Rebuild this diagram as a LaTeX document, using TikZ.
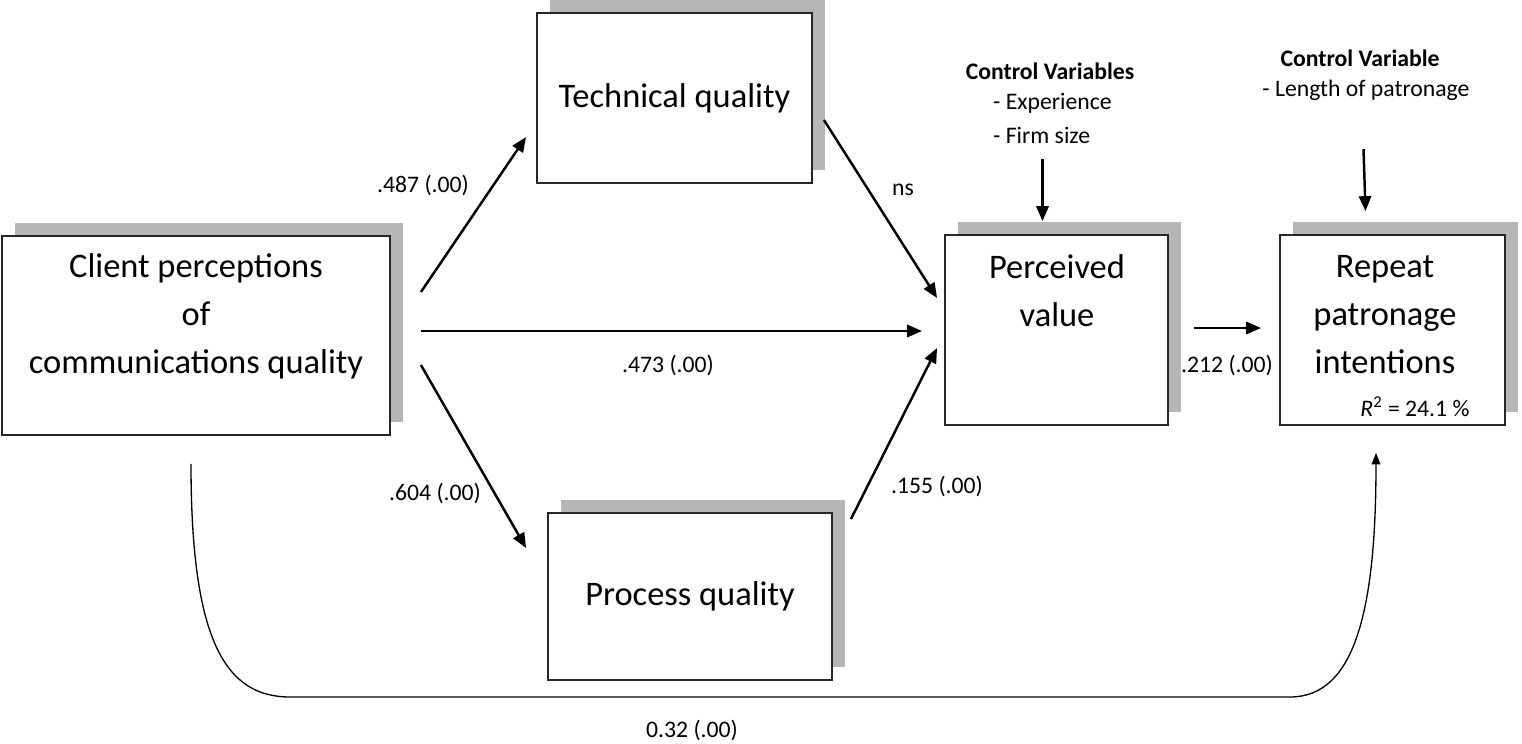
\documentclass[tikz,border=0pt]{standalone}
\usepackage{fontspec}
\setmainfont{Carlito}
\usetikzlibrary{arrows.meta,shadows,calc}

\definecolor{shadegray}{RGB}{182,182,182}

\tikzset{
  box/.style={draw=black!85, line width=1.1pt, fill=white, inner sep=0pt,
    general shadow={fill=shadegray, shadow xshift=0.26cm, shadow yshift=0.26cm}},
  big/.style={font=\fontsize{19.6}{27.3}\selectfont, align=center},
  lbl/.style={font=\fontsize{13.5}{16}\selectfont},
  ctrl/.style={font=\fontsize{13.5}{16}\selectfont\bfseries},
  link/.style={line width=1.4pt, -{Triangle[length=8.5pt,width=7pt]}},
  curvelink/.style={line width=0.75pt, -{Triangle[length=6.5pt,width=5pt]}}
}

\begin{document}
\begin{tikzpicture}[x=0.02cm, y=-0.02cm]
        \useasboundingbox (0,0) rectangle (1522,744);

        % boxes
        \node[box, minimum width=7.76cm, minimum height=3.98cm] (cp) at (196,335.5) {};
        \node[box, big, minimum width=5.5cm, minimum height=3.4cm] (tq) at (674.5,98) {Technical quality};
        \node[box, big, minimum width=5.68cm, minimum height=3.34cm] (ps) at (690,596.5) {Process quality};
        \node[box, minimum width=4.46cm, minimum height=3.8cm] (pv) at (1056.5,330) {};
        \node[box, minimum width=4.5cm, minimum height=3.8cm] (rp) at (1392.5,330) {};

        \node[big] (cpText) at (196,316) {Client perceptions\\of\\communications quality};
        \node[big] (pvText) at (1057,291) {Perceived\\value};
        \node[big] (rpText) at (1385,315) {Repeat\\patronage\\intentions};
        \node[lbl] (rsq) at (1415,407) {\textit{R}\textsuperscript{2} = 24.1 \%};

        % control variables
        \node[ctrl] (cvHead) at (1050,71) {Control Variables};
        \node[lbl, anchor=west] (cvExp) at (987,103) {- Experience};
        \node[lbl, anchor=west] (cvSize) at (987,135) {- Firm size};
        \node[ctrl] (clHead) at (1360,58) {Control Variable};
        \node[lbl] (clLen) at (1366,90) {- Length of patronage};

        % paths
        \draw[link] ($(cp.east)+(30,-43.5)$) -- ($(tq.west)+(-10,39)$);
        \draw[link] ($(cp.east)+(30,-4.5)$) -- ($(pv.west)+(-22,1)$);
        \draw[link] ($(cp.east)+(30,29.5)$) -- ($(ps.west)+(-21,-48.5)$);
        \draw[link] ($(tq.east)+(11,22)$) -- ($(pv.west)+(-7,-32)$);
        \draw[link] ($(ps.north east)+(18,7)$) -- ($(pv.west)+(-7,18)$);
        \draw[link] ($(pv.east)+(25,-2)$) -- ($(rp.west)+(-18,-2)$);
        \draw[link] ($(pv.north)+(-14,-75)$) -- ($(pv.north)+(-14,-13)$);
        \draw[link] ($(rp.north)+(-29,-85)$) -- ($(rp.north)+(-27,-23)$);
        \draw[curvelink] ($(cp.south)+(-5,28)$) .. controls (191,640) and (225,697) .. (290,697)
            -- (1290,697) .. controls (1355,697) and (1376,610) .. ($(rp.south)+(-16.5,27)$);

        % estimates
        \node[lbl] (bTq) at (423,185) {.487 (.00)};
        \node[lbl] (bPv) at (668,365) {.473 (.00)};
        \node[lbl] (bPs) at (435,493) {.604 (.00)};
        \node[lbl] (bTqPv) at (903,190) {ns};
        \node[lbl] (bPsPv) at (937,486) {.155 (.00)};
        \node[lbl] (bRp) at (1227,365) {.212 (.00)};
        \node[lbl] (bCurve) at (692,730) {0.32 (.00)};
\end{tikzpicture}
\end{document}
